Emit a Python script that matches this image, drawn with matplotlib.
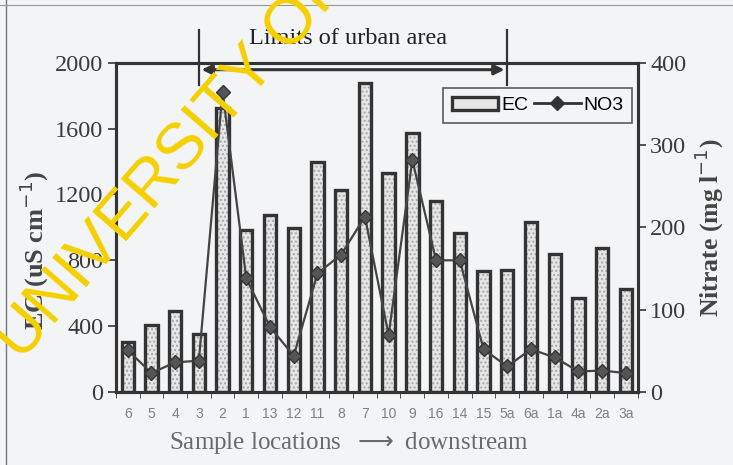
import numpy as np
import matplotlib.pyplot as plt
from matplotlib.lines import Line2D
from matplotlib.patches import Patch

# sample locations, upstream -> downstream
sites = ['6', '5', '4', '3', '2', '1', '13', '12', '11', '8', '7', '10', '9',
         '16', '14', '15', '5a', '6a', '1a', '4a', '2a', '3a']
ec = [306, 405, 490, 355, 1725, 985, 1075, 995, 1395, 1228, 1880, 1330, 1576,
      1160, 968, 735, 742, 1035, 837, 573, 877, 624]
no3 = [51, 23, 36, 38, 365, 138, 79, 44, 144, 167, 213, 69, 282,
       160, 160, 52, 31, 52, 42, 25, 26, 23]
urban_start, urban_end = '3', '5a'

bg = '#f3f4f6'
dark = '#333333'
plt.rcParams['font.family'] = ['Liberation Serif', 'DejaVu Serif']

fig = plt.figure(figsize=(7.33, 4.65), dpi=100, facecolor=bg)
ax = fig.add_axes([0.158, 0.157, 0.712, 0.708])
ax.set_facecolor(bg)
x = np.arange(len(sites))

# dotted light fill, then the dark outline on top
ax.bar(x, ec, width=0.52, facecolor='#e6e6e6', edgecolor='#a8a8a8',
       linewidth=0, hatch='....', zorder=2)
ax.bar(x, ec, width=0.52, facecolor='none', edgecolor=dark,
       linewidth=2.4, zorder=2)
ax.set_xlim(-0.5, len(sites) - 0.5)
ax.set_ylim(0, 2000)
ax.set_yticks(np.arange(0, 2001, 400))
ax.set_xticks(x)
ax.set_xticklabels(sites, family='Liberation Sans', fontsize=10, color='#808080')
ax.set_xticks(np.arange(-0.5, len(sites), 1), minor=True)
ax.tick_params(axis='x', which='major', length=0, pad=11)
ax.tick_params(axis='x', which='minor', length=4, color=dark, direction='out')
ax.tick_params(axis='y', length=6, width=1.2, color=dark, labelsize=17.5,
               labelcolor='#3a3a3a', direction='out', pad=3)
for s in ax.spines.values():
    s.set_linewidth(2.2)
    s.set_color(dark)
ax.text(-0.157, 0.43, 'EC (uS cm$^{-1}$)', transform=ax.transAxes,
        rotation=90, ha='center', va='center', fontsize=19,
        fontweight='bold', color='#444444')
ax.text(0.446, -0.155, 'Sample locations  $\\longrightarrow$ downstream',
        transform=ax.transAxes, ha='center', va='center', fontsize=18,
        color='#6a6a6a')

ax2 = ax.twinx()
ax2.plot(x, no3, color='#444444', linewidth=1.6, marker='D', markersize=7.5,
         markerfacecolor='#555555', markeredgecolor='#333333', zorder=3)
ax2.set_ylim(0, 400)
ax2.set_yticks(np.arange(0, 401, 100))
ax2.tick_params(axis='y', length=6, width=1.2, color=dark, labelsize=17.5,
                labelcolor='#3a3a3a', direction='out', pad=3)
for s in ax2.spines.values():
    s.set_linewidth(2.2)
    s.set_color(dark)
ax2.text(1.138, 0.5, 'Nitrate (mg l$^{-1}$)', transform=ax2.transAxes,
         rotation=90, ha='center', va='center', fontsize=18.5,
         fontweight='bold', color='#444444')

# legend
handles = [Patch(facecolor='#e6e6e6', edgecolor=dark, linewidth=2.4),
           Line2D([], [], color='#333333', linewidth=2, marker='D', markersize=7)]
leg = ax2.legend(handles, ['EC', 'NO3'], loc='upper right', ncol=2,
                 bbox_to_anchor=(0.99, 0.924), frameon=True, fancybox=False,
                 prop={'family': 'Liberation Sans', 'size': 14}, handlelength=2.4,
                 columnspacing=0.3, handletextpad=0.15, borderpad=0.45,
                 borderaxespad=0)
leg.get_frame().set_edgecolor(dark)
leg.get_frame().set_linewidth(1.2)
leg.get_frame().set_facecolor(bg)

# limits of urban area
i0, i1 = sites.index(urban_start), sites.index(urban_end)
trans = ax.get_xaxis_transform()
for i in (i0, i1):
    ax.plot([i, i], [0.933, 1.10], transform=trans, color=dark, linewidth=1.6,
            clip_on=False, zorder=5)
ax.annotate('', xy=(i1, 0.979), xytext=(i0, 0.979), xycoords=trans,
            textcoords=trans,
            arrowprops=dict(arrowstyle='<|-|>', color=dark, linewidth=2.2,
                            mutation_scale=15))
ax.text((i0 + i1) / 2 - 0.2, 1.075, 'Limits of urban area', transform=trans,
        ha='center', va='center', fontsize=17.5, color='#222222')

# scan border lines
fig.add_artist(Line2D([0.008, 0.008], [0, 1], transform=fig.transFigure,
                      color='#777777', linewidth=1))
fig.add_artist(Line2D([0, 1], [0.99, 0.99], transform=fig.transFigure,
                      color='#999999', linewidth=0.8))

# watermark
fig.text(0.030, 0.219, 'UNIVERSITY OF', rotation=49, rotation_mode='anchor',
         ha='left', va='baseline', fontsize=47, color='#f5d000',
         family='Liberation Sans', zorder=10)

fig.savefig('out.png', dpi=100, facecolor=bg)
